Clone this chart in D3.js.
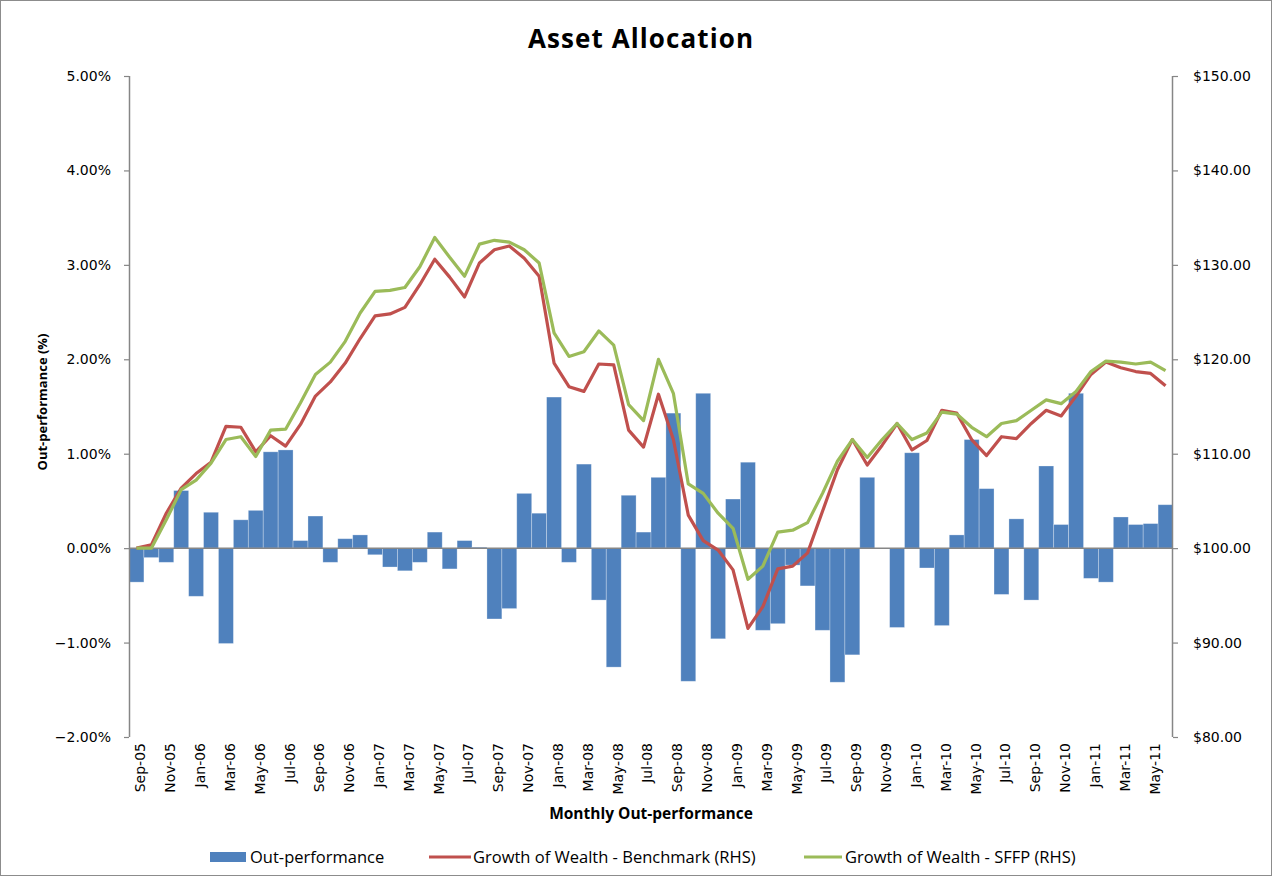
<!DOCTYPE html>
<html><head><meta charset="utf-8">
<script src="https://cdn.jsdelivr.net/npm/d3@7"></script>
<style>body{margin:0;background:#fff;} svg{display:block;}</style>
</head><body>
<svg id="chart" width="1279" height="878"></svg>
<script>
const months = ["Sep-05","Oct-05","Nov-05","Dec-05","Jan-06","Feb-06","Mar-06","Apr-06","May-06","Jun-06","Jul-06","Aug-06",
"Sep-06","Oct-06","Nov-06","Dec-06","Jan-07","Feb-07","Mar-07","Apr-07","May-07","Jun-07","Jul-07","Aug-07",
"Sep-07","Oct-07","Nov-07","Dec-07","Jan-08","Feb-08","Mar-08","Apr-08","May-08","Jun-08","Jul-08","Aug-08",
"Sep-08","Oct-08","Nov-08","Dec-08","Jan-09","Feb-09","Mar-09","Apr-09","May-09","Jun-09","Jul-09","Aug-09",
"Sep-09","Oct-09","Nov-09","Dec-09","Jan-10","Feb-10","Mar-10","Apr-10","May-10","Jun-10","Jul-10","Aug-10",
"Sep-10","Oct-10","Nov-10","Dec-10","Jan-11","Feb-11","Mar-11","Apr-11","May-11","Jun-11"];

// Monthly out-performance (%)
const outPerformance = [-0.36,-0.10,-0.15,0.61,-0.51,0.38,-1.01,0.30,0.40,1.02,1.04,0.08,
0.34,-0.15,0.10,0.14,-0.07,-0.20,-0.24,-0.15,0.17,-0.22,0.08,0.01,
-0.75,-0.64,0.58,0.37,1.60,-0.15,0.89,-0.55,-1.26,0.56,0.17,0.75,
1.43,-1.41,1.64,-0.96,0.52,0.91,-0.87,-0.80,-0.18,-0.40,-0.87,-1.42,
-1.13,0.75,0.00,-0.84,1.01,-0.21,-0.82,0.14,1.15,0.63,-0.49,0.31,
-0.55,0.87,0.25,1.64,-0.32,-0.36,0.33,0.25,0.26,0.46];

// Growth of Wealth - Benchmark (RHS, $)
const benchmark = [100.0,100.35,103.7,106.35,107.9,109.1,112.9,112.8,110.2,111.9,110.8,113.1,
116.1,117.6,119.6,122.2,124.6,124.8,125.5,127.9,130.6,128.7,126.6,130.2,
131.6,132.0,130.7,128.8,119.6,117.1,116.6,119.5,119.4,112.5,110.7,116.3,
111.5,103.5,100.8,99.8,97.7,91.5,93.8,97.8,98.1,99.5,103.9,108.3,
111.5,108.8,110.9,113.2,110.4,111.4,114.6,114.3,111.5,109.8,111.8,111.6,
113.2,114.6,114.0,116.1,118.4,119.7,119.1,118.7,118.5,117.2];

// Growth of Wealth - SFFP (RHS, $)
const sffp = [100.0,100.0,103.0,106.2,107.2,109.0,111.5,111.8,109.7,112.5,112.6,115.4,
118.4,119.7,121.9,124.9,127.2,127.3,127.6,129.8,132.9,130.8,128.8,132.2,
132.6,132.4,131.6,130.2,122.8,120.3,120.8,123.0,121.5,115.2,113.5,120.0,
116.4,106.8,105.8,103.7,102.1,96.7,98.1,101.7,101.9,102.7,105.8,109.2,
111.5,109.6,111.5,113.2,111.5,112.2,114.4,114.2,112.8,111.8,113.2,113.5,
114.6,115.7,115.3,116.6,118.7,119.8,119.7,119.5,119.7,118.8];

const leftTicks = [-2,-1,0,1,2,3,4,5];
const rightTicks = [80,90,100,110,120,130,140,150];
const seriesNames = ["Out-performance","Growth of Wealth - Benchmark (RHS)","Growth of Wealth - SFFP (RHS)"];
const colors = ["#4F81BD","#C0504D","#9BBB59"];

const svg = d3.select("#chart");
const L = 129, R = 1173, T = 76, B = 737;
const x = d3.scaleBand().domain(months).range([L, R]).padding(0);
const yL = d3.scaleLinear().domain([-2, 5]).range([B, T]);
const yR = d3.scaleLinear().domain([80, 150]).range([B, T]);

// chart frame
svg.append("rect").attr("x",0.5).attr("y",0.5).attr("width",1271).attr("height",875)
  .attr("fill","#fff").attr("stroke","#8c8c8c").attr("stroke-width",1);

// title
svg.append("text").attr("x",641).attr("y",48).attr("text-anchor","middle")
  .attr("font-family","Open Sans").attr("font-weight","bold").attr("font-size",26)
  .attr("letter-spacing",1.1).attr("fill","#000")
  .text("Asset Allocation");

// bars
svg.append("g").selectAll("rect").data(outPerformance).join("rect")
  .attr("x",(d,i)=>x(months[i]))
  .attr("width",x.bandwidth())
  .attr("y",d=>yL(Math.max(0,d)))
  .attr("height",d=>Math.abs(yL(d)-yL(0)))
  .attr("fill",colors[0])
  .attr("stroke","#ffffff").attr("stroke-opacity",0.35).attr("stroke-width",0.8);

// axes
const axisColor = "#868686";
const gL = svg.append("g").attr("transform",`translate(${L},0)`)
  .call(d3.axisLeft(yL).tickValues(leftTicks).tickSize(5).tickPadding(13).tickFormat(d=>d3.format(".2f")(d)+"%"));
const gR = svg.append("g").attr("transform",`translate(${R},0)`)
  .call(d3.axisRight(yR).tickValues(rightTicks).tickSize(5).tickPadding(15).tickFormat(d=>"$"+d3.format(".2f")(d)));
[gL,gR].forEach(g=>{
  g.select(".domain").attr("stroke",axisColor).attr("stroke-width",1.5).attr("d", g===gL?`M0.5,${T}V${B}`:`M-0.5,${T}V${B}`);
  g.selectAll(".tick line").attr("stroke",axisColor).attr("stroke-width",1.2);
  g.selectAll(".tick text").attr("font-family","DejaVu Sans").attr("font-size",14).attr("fill","#000");
});

// zero (category) axis line
svg.append("line").attr("x1",L).attr("x2",R).attr("y1",yL(0)).attr("y2",yL(0))
  .attr("stroke",axisColor).attr("stroke-width",1.5);

// x labels (every second month), at bottom
svg.append("g").selectAll("text").data(months.filter((m,i)=>i%2===0)).join("text")
  .attr("transform",d=>`translate(${x(d)+x.bandwidth()/2+4},${B+6}) rotate(-90)`)
  .attr("text-anchor","end").attr("dy","0.35em")
  .attr("font-family","DejaVu Sans").attr("font-size",14).attr("fill","#000")
  .text(d=>d);

// lines
const lineR = d3.line().x((d,i)=>x(months[i])+x.bandwidth()/2).y(d=>yR(d));
svg.append("path").datum(benchmark).attr("d",lineR).attr("fill","none")
  .attr("stroke",colors[1]).attr("stroke-width",3.2).attr("stroke-linejoin","round");
svg.append("path").datum(sffp).attr("d",lineR).attr("fill","none")
  .attr("stroke",colors[2]).attr("stroke-width",3.2).attr("stroke-linejoin","round");

// axis titles
svg.append("text").attr("x",651).attr("y",819).attr("text-anchor","middle")
  .attr("font-family","Open Sans").attr("font-weight","bold").attr("font-size",15.5).attr("fill","#000")
  .text("Monthly Out-performance");
svg.append("text").attr("transform","translate(47,402) rotate(-90)").attr("text-anchor","middle")
  .attr("font-family","Open Sans").attr("font-weight","bold").attr("font-size",13).attr("fill","#000")
  .text("Out-performance (%)");

// legend
const lg = svg.append("g").attr("font-family","Open Sans").attr("font-size",16.5).attr("fill","#000");
lg.append("rect").attr("x",210).attr("y",852).attr("width",36).attr("height",10).attr("fill",colors[0]);
lg.append("text").attr("x",250).attr("y",857).attr("dy","0.35em").text(seriesNames[0]);
lg.append("line").attr("x1",429).attr("x2",471).attr("y1",857).attr("y2",857).attr("stroke",colors[1]).attr("stroke-width",3);
lg.append("text").attr("x",473).attr("y",857).attr("dy","0.35em").text(seriesNames[1]);
lg.append("line").attr("x1",804).attr("x2",842).attr("y1",857).attr("y2",857).attr("stroke",colors[2]).attr("stroke-width",3);
lg.append("text").attr("x",845).attr("y",857).attr("dy","0.35em").text(seriesNames[2]);
</script>
</body></html>
